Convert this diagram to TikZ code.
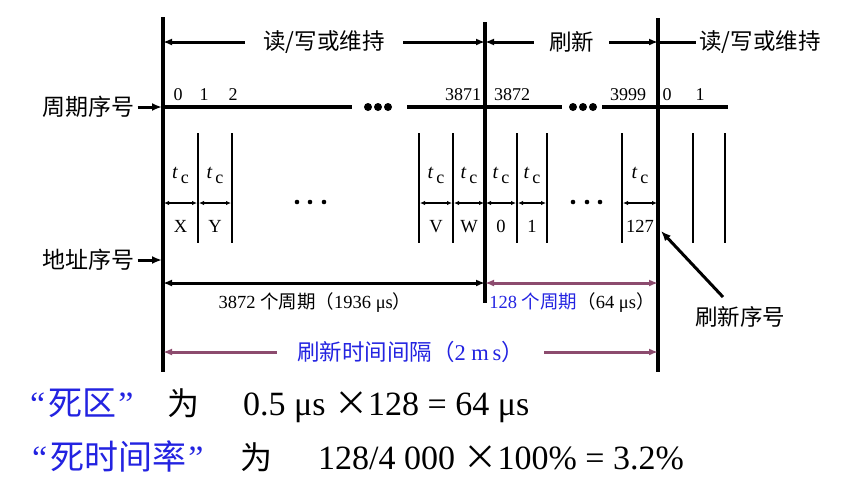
\documentclass[tikz,border=0pt]{standalone}
\usepackage{fontspec}
\setmainfont{Liberation Serif}
\newfontfamily\cjk{Noto Sans CJK SC}
\usetikzlibrary{arrows.meta, calc}
\definecolor{mauve}{RGB}{140,75,110}
\definecolor{txtblue}{RGB}{35,35,225}
\newcommand{\cn}[1]{{\cjk #1}}
\newcommand{\tcyc}{\textit{t}\raisebox{-5pt}{\fontsize{18}{18}\selectfont\,c}}

\begin{document}
\begin{tikzpicture}[
  x = 1pt, y = -1pt,
  bar/.style={line width=3.5pt},
  cycline/.style={line width=3.5pt},
  cellline/.style={line width=1.5pt},
  span/.style={line width=3pt, {Latex[length=9pt,width=7pt]}-{Latex[length=9pt,width=7pt]}},
  refspan/.style={span, color=mauve},
  tcspan/.style={line width=1.2pt, {Latex[length=5pt,width=4.5pt]}-{Latex[length=5pt,width=4.5pt]}},
  pointer/.style={line width=3pt, -{Latex[length=10pt,width=8pt]}},
  gap/.style={fill=white, inner xsep=18pt, inner ysep=0pt},
  zh/.style={font=\cjk\fontsize{22.5}{22.5}\selectfont},
  num/.style={font=\fontsize{18}{18}\selectfont, anchor=base, inner sep=0pt},
  tclabel/.style={font=\fontsize{20}{20}\selectfont, anchor=base, inner sep=0pt},
  small/.style={font=\fontsize{18.5}{18.5}\selectfont, anchor=base, inner sep=0pt},
  big/.style={font=\fontsize{34}{34}\selectfont, anchor=base west, inner sep=0pt},
  bigzh/.style={big, font=\cjk\fontsize{32}{32}\selectfont}
]
%general params
\def\yspan{42}  %top spans
\def\ycyc{107}  %cycle line
\def\ycellA{133}
\def\ycellB{243}
\def\ytc{203}
\def\ybot{283}
\def\yint{352}
\useasboundingbox (0,0) rectangle (861,491);

%main bars
\draw[bar] (163,17) -- (163,372);
\draw[bar] (485,22) -- (485,303);
\draw[bar] (658,18) -- (658,372);

%top spans
\draw[span] (163,\yspan) -- (485,\yspan) node[midway, gap, zh] (rw1) {读/写或维持};
\draw[span] (485,\yspan) -- (658,\yspan) node[midway, gap, zh, inner xsep=15pt] (rf) {刷新};
\node[zh] (rw2) at (760,\yspan) {读/写或维持};
\coordinate (rwtip) at (658,\yspan);
\draw[span, {-}] (rw2.west) -- (rwtip);

%cycle line
\draw[cycline] (163,\ycyc) -- (352,\ycyc);
\draw[cycline] (407,\ycyc) -- (562,\ycyc);
\draw[cycline] (602,\ycyc) -- (728,\ycyc);
\foreach \x in {378,583}
  \foreach \dx in {-10,0,10} \fill (\x+\dx,\ycyc) circle (4pt);
\foreach \x/\n [count=\i] in {178/0, 204/1, 233/2, 463/3871, 512/3872, 628/3999, 667/0, 700/1}
  \node[num] (cyc\i) at (\x,100) {\n};

%labels on the left
\node[zh, font=\cjk\fontsize{23}{23}\selectfont] (cyclab) at (88,\ycyc) {周期序号};
\node[zh, font=\cjk\fontsize{23}{23}\selectfont] (addrlab) at (88,260) {地址序号};
\coordinate (cycin) at (162,\ycyc);
\coordinate (addrin) at (162,260);
\draw[pointer] (cyclab.east) -- (cycin);
\draw[pointer] (addrlab.east) -- (addrin);

%cells
\foreach \x in {198,232,419,453,517,547,622,693,725}
  \draw[cellline] (\x,\ycellA) -- (\x,\ycellB);
\foreach \a/\b/\lab [count=\i] in {163/198/X, 198/232/Y, 419/453/V, 453/485/W, 485/517/0, 517/547/1, 622/658/127} {
  \draw[tcspan] (\a+1,\ytc) -- (\b-1,\ytc);
  \node[tclabel] (tc\i) at ({(\a+\b)/2},178) {\tcyc};
  \node[small] (addr\i) at ({(\a+\b)/2},232) {\lab};
}
\foreach \x in {297,310,324,573,587,600} \fill (\x,\ytc-1) circle (2.3pt);

%bottom spans
\draw[span] (163,\ybot) -- (485,\ybot);
\draw[refspan] (485,\ybot) -- (658,\ybot);
\node[small] (rwlen) at (315,308) {3872 \cn{个周期（}1936 μs\cn{）}};
\node[small] (rflen) at (572,308) {\textcolor{txtblue}{128 \cn{个周期}}\cn{（}64 μs\cn{）}};

%refresh number
\node[zh] (refnum) at (740,317) {刷新序号};
\coordinate (refsrc) at (723,297);
\coordinate (reftip) at (661,231);
\draw[pointer] (refsrc) -- (reftip);

%refresh interval
\draw[refspan] (163,\yint) -- (658,\yint) node[midway, gap, zh, text=txtblue, inner xsep=20pt] (intv) {刷新时间间隔（{\rmfamily 2 m\,s}）};

%dead zone text
\node[big, text=txtblue] (dz1) at (30,415) {“\hspace{3pt}\cn{死区}\hspace{2pt}”};
\node[bigzh] (wei1) at (167,415) {为};
\node[big] (eq1) at (243,415) {0.5 μs \cn{×}128 = 64 μs};
\node[big, text=txtblue] (dz2) at (32,469) {“\hspace{3pt}\cn{死时间率}\hspace{2pt}”};
\node[bigzh] (wei2) at (240,469) {为};
\node[big] (eq2) at (318,469) {128/4 000 \cn{×}100\% = 3.2\%};

\end{tikzpicture}
\end{document}
